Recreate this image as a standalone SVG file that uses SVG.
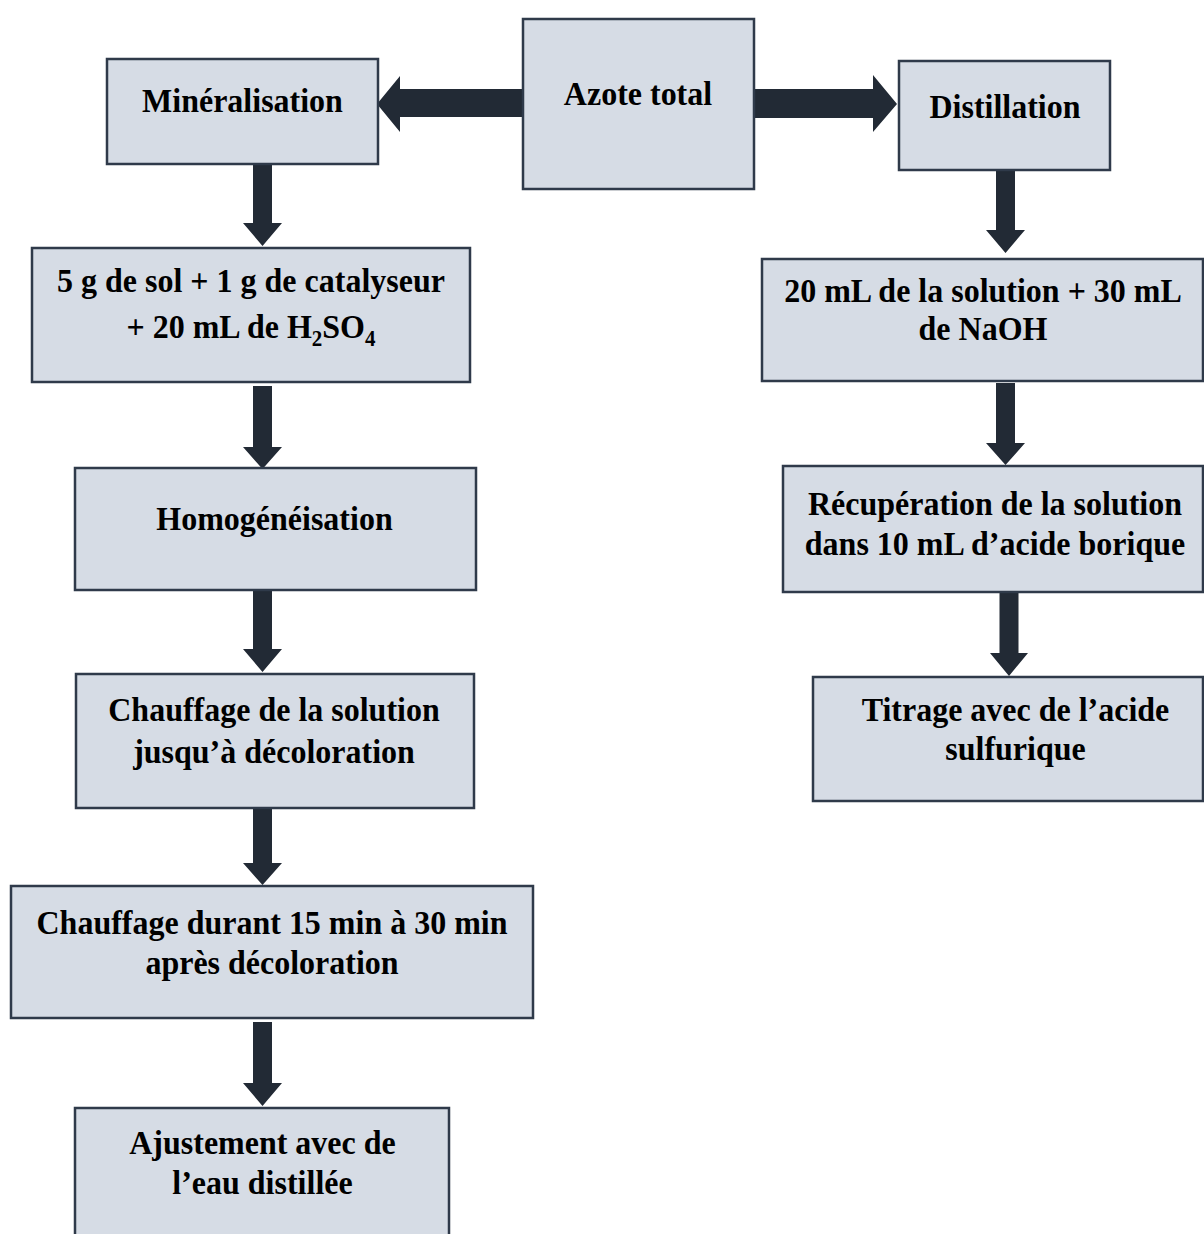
<svg xmlns="http://www.w3.org/2000/svg" width="1204" height="1234" viewBox="0 0 1204 1234">
<style>
.box{fill:#D6DCE5;stroke:#2F3A4A;stroke-width:2.5}
.arr{fill:#222A35}
text{font-family:"Liberation Serif","Times New Roman",serif;font-weight:bold;font-size:32px;fill:#000;text-anchor:middle;transform-box:fill-box;transform-origin:center;transform:scaleY(1.07)}
.sub{font-size:21px}
</style>
<rect width="1204" height="1234" fill="#fff"/>
<g id="connectors">
<path class="arr" d="M523,89 L400,89 L400,76 L377,104 L400,132 L400,117 L523,117 Z"/>
<path class="arr" d="M754,89 L873,89 L873,75 L897,104 L873,132 L873,118 L754,118 Z"/>
<path class="arr" d="M253,164 L272,164 L272,223 L282,223 L262.5,246 L243,223 L253,223 Z"/>
<path class="arr" d="M253,386 L272,386 L272,447 L282,447 L262.5,469 L243,447 L253,447 Z"/>
<path class="arr" d="M253,590 L272,590 L272,649 L282,649 L262.5,672 L243,649 L253,649 Z"/>
<path class="arr" d="M253,806 L272,806 L272,863 L282,863 L262.5,885 L243,863 L253,863 Z"/>
<path class="arr" d="M253,1022 L272,1022 L272,1083 L282,1083 L262.5,1106 L243,1083 L253,1083 Z"/>
<path class="arr" d="M996,170 L1015,170 L1015,230 L1025,230 L1005.5,253 L986,230 L996,230 Z"/>
<path class="arr" d="M996,383 L1015,383 L1015,443 L1025,443 L1005.5,465 L986,443 L996,443 Z"/>
<path class="arr" d="M999.5,592 L1018.5,592 L1018.5,653 L1028,653 L1009,676 L990,653 L999.5,653 Z"/>
</g>
<g id="azote"><rect class="box" x="523" y="19" width="231" height="170"/><text x="638" y="104">Azote total</text></g>
<g id="mineralisation"><rect class="box" x="107" y="59" width="271" height="105"/><text x="242.5" y="111">Minéralisation</text></g>
<g id="distillation"><rect class="box" x="899" y="61" width="211" height="109"/><text x="1005" y="117">Distillation</text></g>
<g id="melange"><rect class="box" x="32" y="248" width="438" height="134"/><text x="251" y="291">5 g de sol + 1 g de catalyseur</text><text x="251" y="337">+ 20 mL de H<tspan class="sub" dy="8">2</tspan><tspan dy="-8">SO</tspan><tspan class="sub" dy="8">4</tspan></text></g>
<g id="homogeneisation"><rect class="box" x="75" y="468" width="401" height="122"/><text x="274.5" y="529">Homogénéisation</text></g>
<g id="chauffage1"><rect class="box" x="76" y="674" width="398" height="134"/><text x="274" y="720">Chauffage de la solution</text><text x="274" y="762">jusqu’à décoloration</text></g>
<g id="chauffage2"><rect class="box" x="11" y="886" width="522" height="132"/><text x="272" y="933">Chauffage durant 15 min à 30 min</text><text x="272" y="973">après décoloration</text></g>
<g id="ajustement"><rect class="box" x="75" y="1108" width="374" height="150"/><text x="262.5" y="1153">Ajustement avec de</text><text x="262.5" y="1193">l’eau distillée</text></g>
<g id="naoh"><rect class="box" x="762" y="259" width="441" height="122"/><text x="983" y="301">20 mL de la solution + 30 mL</text><text x="983" y="339">de NaOH</text></g>
<g id="recuperation"><rect class="box" x="783" y="466" width="420" height="126"/><text x="995" y="514">Récupération de la solution</text><text x="995" y="554">dans 10 mL d’acide borique</text></g>
<g id="titrage"><rect class="box" x="813" y="677" width="390" height="124"/><text x="1015.5" y="720">Titrage avec de l’acide</text><text x="1015.5" y="759">sulfurique</text></g>
</svg>
